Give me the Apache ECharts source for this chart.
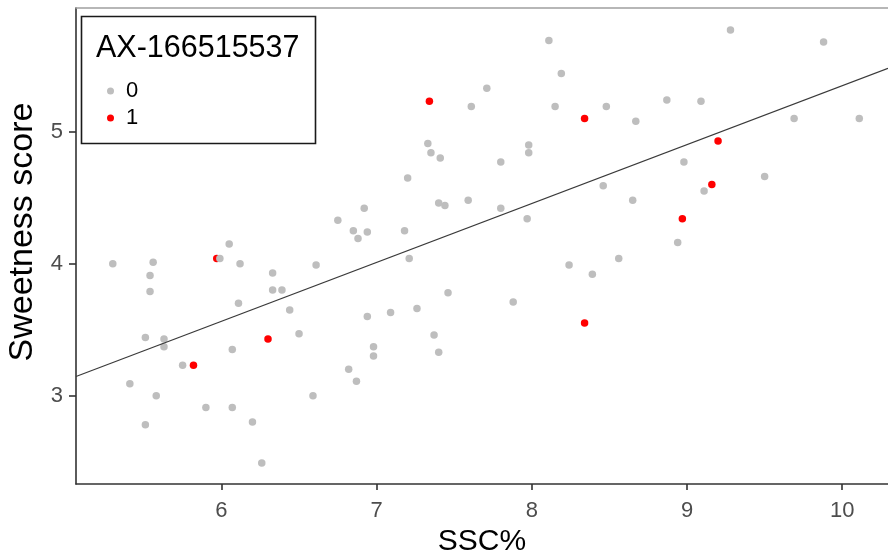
<!DOCTYPE html>
<html>
<head>
<meta charset="utf-8">
<script src="https://cdn.jsdelivr.net/npm/echarts@6/dist/echarts.min.js"></script>
<style>html,body{margin:0;padding:0;background:#fff}#c{width:888px;height:557px}</style>
</head>
<body>
<div id="c"></div>
<script>
// SSC% (x) and Sweetness score (y) for genotype 0 (grey)
var g0X = [6.92,6.75,6.85,6.94,6.88,6.05,8.11,8.19,7.71,7.61,8.15,8.48,8.67,7.33,7.35,7.41,7.98,7.98,7.80,7.20,
           8.46,8.65,7.40,7.44,7.59,7.80,7.97,7.18,9.28,9.88,8.87,9.09,9.69,10.11,8.98,9.11,9.50,8.94,5.30,5.56,
           5.54,5.54,5.99,6.12,6.61,6.33,6.33,6.39,6.11,6.44,6.94,5.51,5.63,5.63,6.07,6.50,5.75,5.41,5.58,6.59,
           6.82,6.87,6.98,6.98,5.90,6.07,5.51,6.20,6.26,7.21,8.24,8.39,8.56,7.46,7.88,7.09,7.26,7.37,7.40];
var g0Y = [4.42,4.33,4.25,4.24,4.19,4.15,5.69,5.44,5.33,5.19,5.19,5.19,5.08,4.91,4.84,4.80,4.90,4.84,4.77,4.65,
           4.59,4.48,4.46,4.44,4.48,4.42,4.34,4.25,5.77,5.68,5.24,5.23,5.10,5.10,4.77,4.55,4.66,4.16,4.00,4.01,
           3.91,3.79,4.04,4.00,3.99,3.93,3.80,3.80,3.70,3.65,3.60,3.44,3.43,3.37,3.35,3.47,3.23,3.09,3.00,3.00,
           3.20,3.11,3.37,3.30,2.91,2.91,2.78,2.80,2.49,4.04,3.99,3.92,4.04,3.78,3.71,3.63,3.66,3.46,3.33];
// genotype 1 (red)
var g1X = [7.34,8.34,9.20,9.16,8.97,5.97,6.30,5.82,8.34];
var g1Y = [5.23,5.10,4.93,4.60,4.34,4.04,3.43,3.23,3.55];
// fitted line end points
var fitX = [5.063,10.295];
var fitY = [3.145,5.480];
var xTicks = [6,7,8,9,10];
var yTicks = [3,4,5];
var legendTitle = 'AX-166515537';
var groups = ['0','1'];

function zip(a,b){ return a.map(function(v,i){ return [v,b[i]]; }); }

var FONT = '"Liberation Sans", Arial, sans-serif';
var XMIN = 5.063, XMAX = 10.295, YMIN = 2.331, YMAX = 5.937;
var chart = echarts.init(document.getElementById('c'), null, {renderer:'canvas'});
chart.setOption({
  animation:false,
  backgroundColor:'#fff',
  grid:{left:76, right:0, top:8, bottom:73, containLabel:false, outerBoundsMode:'none'},
  title:{text:legendTitle, left:96, top:34, padding:0,
         textStyle:{fontFamily:FONT, fontSize:30.5, fontWeight:'normal', color:'#000', lineHeight:30}},
  legend:{data:groups, orient:'vertical', left:107, top:80, itemWidth:7, itemHeight:7, itemGap:5, padding:0,
          icon:'circle',
          textStyle:{fontFamily:FONT, fontSize:22, color:'#000', lineHeight:22, padding:[0,0,0,7]}},
  graphic:[{type:'rect', shape:{x:81.5, y:16.5, width:234, height:127},
            style:{fill:null, stroke:'#1a1a1a', lineWidth:1.6}, z:100}],
  xAxis:[{type:'value', min:XMIN, max:XMAX,
    name:'SSC%', nameLocation:'middle', nameGap:43,
    nameTextStyle:{fontFamily:FONT, fontSize:30, color:'#000'},
    splitLine:{show:false},
    axisLine:{lineStyle:{color:'#333', width:1.6}},
    axisTick:{length:6, lineStyle:{color:'#333', width:1.6}, customValues:xTicks},
    axisLabel:{fontFamily:FONT, fontSize:22, color:'#4d4d4d', margin:16, customValues:xTicks}},
   {type:'value', position:'top', min:XMIN, max:XMAX,
    splitLine:{show:false}, axisTick:{show:false}, axisLabel:{show:false},
    axisLine:{lineStyle:{color:'#a0a0a0', width:1.6}}}],
  yAxis:{type:'value', min:YMIN, max:YMAX,
    name:'Sweetness score', nameLocation:'middle', nameGap:30,
    nameTextStyle:{fontFamily:FONT, fontSize:34, color:'#000', padding:[0,0,0,28]},
    splitLine:{show:false},
    axisLine:{lineStyle:{color:'#333', width:1.6}},
    axisTick:{length:7, lineStyle:{color:'#333', width:1.6}, customValues:yTicks},
    axisLabel:{fontFamily:FONT, fontSize:22, color:'#4d4d4d', margin:13, customValues:yTicks}},
  series:[
    {type:'line', name:'fit', data:zip(fitX,fitY), symbol:'none', silent:true,
     lineStyle:{color:'#3a3a3a', width:1.2}},
    {type:'scatter', name:'1', data:zip(g1X,g1Y), symbolSize:7.5, itemStyle:{color:'#ff0000', opacity:1}},
    {type:'scatter', name:'0', data:zip(g0X,g0Y), symbolSize:7.5, itemStyle:{color:'#bebebe', opacity:1}}
  ]
});
</script>
</body>
</html>
